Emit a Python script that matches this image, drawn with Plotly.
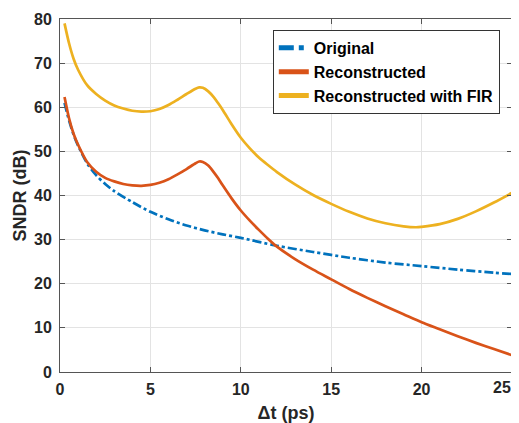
import plotly.graph_objects as go

# Delta t (ps) and SNDR (dB)
t_orig = [0.25, 0.5, 0.75, 1.0, 1.5, 2.0, 2.5, 3.0, 4.0, 5.0, 6.0, 7.0, 8.0, 9.0, 10.0,
          12.0, 14.0, 16.0, 18.0, 20.0, 22.0, 24.0, 25.0]
sndr_orig = [61.0, 57.0, 53.8, 51.3, 47.3, 44.6, 42.6, 41.0, 38.5, 36.3, 34.6, 33.2, 32.1, 31.2, 30.4,
             28.6, 27.2, 25.9, 24.8, 24.0, 23.2, 22.5, 22.2]

t_rec = [0.25, 0.5, 0.75, 1.0, 1.5, 2.0, 2.5, 3.0, 3.5, 4.0, 4.5, 5.0, 5.5, 6.0, 6.5, 7.0, 7.5, 7.7,
         7.9, 8.2, 8.5, 8.75, 9.0, 9.5, 10.0, 10.5, 11.0, 11.5, 12.0, 13.0, 14.0, 15.0, 16.0, 17.0, 18.0,
         19.0, 20.0, 21.0, 22.0, 23.0, 24.0, 25.0]
sndr_rec = [62.3, 57.5, 54.0, 51.5, 47.6, 45.4, 44.0, 43.2, 42.6, 42.3, 42.2, 42.4, 42.9, 43.7, 44.8,
            46.0, 47.3, 47.7, 47.6, 46.8, 45.3, 43.9, 42.3, 39.3, 36.6, 34.3, 32.2, 30.2, 28.4, 25.6,
            23.2, 21.0, 18.8, 16.8, 14.9, 13.1, 11.3, 9.7, 8.1, 6.6, 5.2, 3.8]

t_fir = [0.25, 0.5, 0.75, 1.0, 1.5, 2.0, 2.5, 3.0, 3.5, 4.0, 4.5, 5.0, 5.5, 6.0, 6.5, 7.0, 7.5, 7.7,
         7.9, 8.2, 8.5, 8.75, 9.0, 9.5, 10.0, 10.5, 11.0, 11.5, 12.0, 13.0, 14.0, 15.0, 16.0, 17.0,
         18.0, 19.0, 19.7, 20.0, 21.0, 22.0, 23.0, 24.0, 25.0]
sndr_fir = [79.0, 74.5, 71.0, 68.5, 65.0, 63.0, 61.5, 60.4, 59.7, 59.2, 59.0, 59.1, 59.6, 60.5, 61.7,
            63.0, 64.2, 64.5, 64.4, 63.6, 62.3, 60.9, 59.4, 56.1, 53.1, 50.7, 48.6, 46.9, 45.3, 42.5,
            40.1, 38.1, 36.3, 34.8, 33.7, 33.0, 32.8, 32.9, 33.5, 34.7, 36.4, 38.4, 40.6]

x_ticks = [0, 5, 10, 15, 20, 25]
y_ticks = [0, 10, 20, 30, 40, 50, 60, 70, 80]

font_family = "Liberation Sans, Arial, sans-serif"

fig = go.Figure()
fig.add_trace(go.Scatter(x=t_orig, y=sndr_orig, mode="lines", name="<b>Original</b>",
                         line=dict(color="#0072BD", width=2.7, dash="dashdot", shape="spline", smoothing=0.8)))
fig.add_trace(go.Scatter(x=t_rec, y=sndr_rec, mode="lines", name="<b>Reconstructed</b>",
                         line=dict(color="#D95319", width=2.7, shape="spline", smoothing=0.8)))
fig.add_trace(go.Scatter(x=t_fir, y=sndr_fir, mode="lines", name="<b>Reconstructed with FIR</b>",
                         line=dict(color="#EDB120", width=2.7, shape="spline", smoothing=0.8)))

axis_common = dict(showgrid=True, gridcolor="#e3e3e3", gridwidth=1,
                   showline=True, linecolor="#555555", linewidth=1, mirror="ticks",
                   ticks="inside", ticklen=5, tickcolor="#555555", zeroline=False,
                   automargin=False,
                   tickfont=dict(family=font_family, size=16, color="#262626"))

# last x tick label is drawn as an annotation so it stays inside the window
x_ticktext = [f"<b>{v}</b>" for v in x_ticks[:-1]] + [""]

fig.update_xaxes(range=[0, 25], tickvals=x_ticks, ticktext=x_ticktext,
                 ticklabelstandoff=3,
                 title=dict(text="<b>Δt (ps)</b>", font=dict(family=font_family, size=18, color="#262626"),
                            standoff=17), **axis_common)
fig.update_yaxes(range=[0, 80], tickvals=y_ticks, ticktext=[f"<b>{v}</b>" for v in y_ticks],
                 ticklabelstandoff=4,
                 title=dict(text="<b>SNDR (dB)</b>", font=dict(family=font_family, size=18, color="#262626"),
                            standoff=2), **axis_common)

fig.add_annotation(x=x_ticks[-1], y=0, xref="x", yref="paper", text=f"<b>{x_ticks[-1]}</b>",
                   showarrow=False, xanchor="right", yanchor="top", xshift=1, yshift=-5,
                   font=dict(family=font_family, size=16, color="#262626"))

# the page body adds an 8px offset, so the figure is sized to fit the 519x423 window
fig.update_layout(
    width=511, height=415,
    margin=dict(l=52, r=7, t=11, b=51),
    paper_bgcolor="white", plot_bgcolor="white",
    showlegend=True,
    legend=dict(x=0.973, y=0.969, xanchor="right", yanchor="top",
                bgcolor="white", bordercolor="#333333", borderwidth=1,
                font=dict(family=font_family, size=16, color="#000000"),
                tracegroupgap=0, itemsizing="constant"),
)

fig.write_html("out.html")
